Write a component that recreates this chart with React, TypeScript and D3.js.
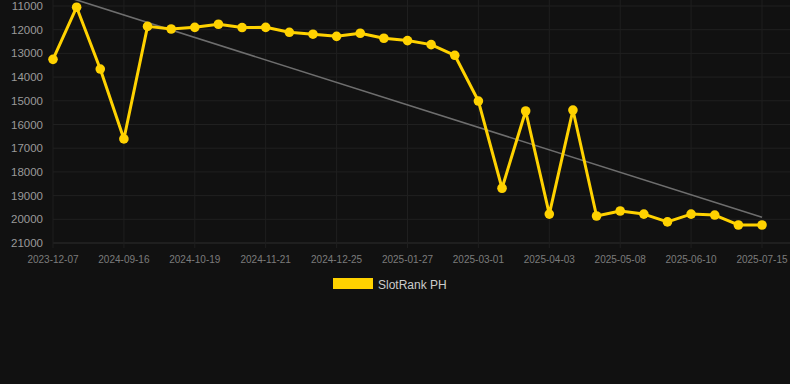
import React from 'react';
import * as d3 from 'd3';

// rank values, one per sample (lower is better, axis reversed)
const ranks = [
  13250, 11050, 13660, 16610, 11860, 11970, 11900, 11770, 11910, 11900,
  12110, 12190, 12280, 12150, 12360, 12460, 12630, 13080, 15010, 18690,
  15430, 19780, 15390, 19860, 19650, 19780, 20110, 19780, 19820, 20240,
  20240,
];

// labels shown on every third sample
const tickLabels = [
  '2023-12-07', '2024-09-16', '2024-10-19', '2024-11-21', '2024-12-25',
  '2025-01-27', '2025-03-01', '2025-04-03', '2025-05-08', '2025-06-10',
  '2025-07-15',
];
const tickEvery = 3;

const yTicks = [11000, 12000, 13000, 14000, 15000, 16000, 17000, 18000, 19000, 20000, 21000];

// trend line endpoints (first and last sample)
const trend = [10430, 19915];

const seriesName = 'SlotRank PH';

const W = 790, H = 384;
const FONT = '"Liberation Sans", Arial, Helvetica, sans-serif';
const GOLD = '#FFD200';

export default function App() {
  const idx = d3.range(ranks.length);
  const x = d3.scalePoint<number>().domain(idx).range([53, 762]);
  const y = d3.scaleLinear().domain([11000, 21000]).range([6, 243]);

  const line = d3.line<number>()
    .x((_, i) => x(i)!)
    .y(d => y(d));

  const last = ranks.length - 1;

  return (
    <svg width={W} height={H} style={{ position: 'absolute', left: 0, top: 0, display: 'block' }}>
      <rect width={W} height={H} fill="#111111" />

      {/* grid */}
      {yTicks.map(t => (
        <line key={t} x1={53} x2={W} y1={y(t)} y2={y(t)}
          stroke={t === 21000 ? '#2e2e2e' : '#202020'} strokeWidth={1} />
      ))}
      {tickLabels.map((_, k) => (
        <line key={k} x1={x(k * tickEvery)} x2={x(k * tickEvery)} y1={0} y2={248}
          stroke="#1f1f1f" strokeWidth={1} />
      ))}

      {/* y axis labels */}
      {yTicks.map(t => (
        <text key={t} x={43} y={y(t)} dy="0.35em" textAnchor="end"
          fontFamily={FONT} fontSize={11.5} fill="#9a9a9a">{t}</text>
      ))}

      {/* x axis labels */}
      {tickLabels.map((lab, k) => (
        <text key={lab} x={x(k * tickEvery)} y={263} textAnchor="middle"
          fontFamily={FONT} fontSize={10} fill="#7c7c7c">{lab}</text>
      ))}

      {/* trend */}
      <line x1={x(0)} y1={y(trend[0])} x2={x(last)} y2={y(trend[1])}
        stroke="#6e6e6e" strokeWidth={1.6} />

      {/* series */}
      <path d={line(ranks) || ''} fill="none" stroke={GOLD} strokeWidth={3} strokeLinejoin="round" />
      {ranks.map((v, i) => (
        <circle key={i} cx={x(i)} cy={y(v)} r={4.8} fill={GOLD} />
      ))}

      {/* legend */}
      <rect x={333} y={278} width={40} height={11} fill={GOLD} />
      <text x={378} y={289} fontFamily={FONT} fontSize={12} fill="#cccccc">{seriesName}</text>
    </svg>
  );
}
